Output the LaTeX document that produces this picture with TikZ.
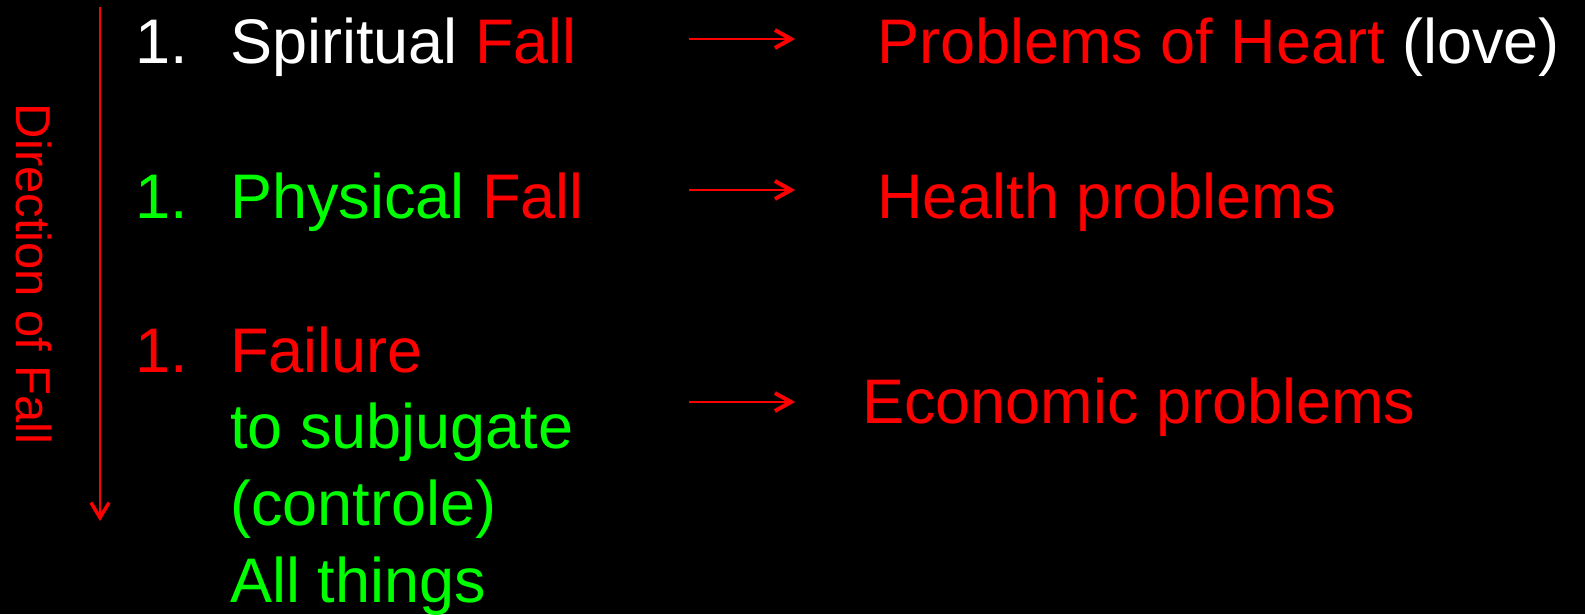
\documentclass[tikz,border=0pt]{standalone}
\usepackage{fontspec}
\setmainfont{Liberation Sans}
\usetikzlibrary{arrows.meta}
\definecolor{fallred}{RGB}{255,0,0}
\definecolor{fallgreen}{RGB}{0,255,0}
\tikzset{
	txt/.style = {
		anchor=base west,
		inner sep=0pt,
		font=\fontsize{63}{77}\selectfont
	},
	txt_w/.style = {
		txt,
		white
	},
	txt_g/.style = {
		txt,
		fallgreen
	},
	txt_r/.style = {
		txt,
		fallred
	},
	fall_arrow/.style = {
		fallred,
		line width=2pt,
		-{Straight Barb[length=16pt,width=18pt,line width=4pt]}
	},
	dir_arrow/.style = {
		fallred,
		line width=2pt,
		-{Straight Barb[length=15pt,width=18pt,line width=3.5pt]}
	},
}

\begin{document}
\begin{tikzpicture}[x=1pt,y=-1pt]
\fill[black] (0,0) rectangle (1585,614);
\useasboundingbox (0,0) rectangle (1585,614);

% direction of fall
\coordinate (dtop) at (100,7);
\coordinate (dbot) at (100,521);
\draw[dir_arrow] (dtop) -- (dbot);
\node[fallred, inner sep=0pt, rotate=-90, font=\fontsize{49}{59}\selectfont] (dir) at (34,274) {Direction of Fall};

% left column
\node[txt_w] (num1) at (135,63) {1.};
\node[txt_w] (spirit) at (230,63) {Spiritual \textcolor{fallred}{Fall}};
\node[txt_g] (num2) at (135,218) {1.};
\node[txt_g] (phys) at (230,218) {Physical \textcolor{fallred}{Fall}};
\node[txt_r] (num3) at (135,372) {1.};
\node[txt_r] (fail1) at (230,372) {Failure};
\node[txt_g] (fail2) at (230,448) {to subjugate};
\node[txt_g] (fail3) at (230,525) {(controle)};
\node[txt_g] (fail4) at (230,602) {All things};

% right column
\node[txt_r] (heart) at (877,63) {Problems of Heart \textcolor{white}{(love)}};
\node[txt_r] (health) at (877,218) {Health problems};
\node[txt_r] (econ) at (862,423) {Economic problems};

% arrows
\coordinate (a1) at (689,39);
\coordinate (b1) at (795,39);
\coordinate (a2) at (689,190);
\coordinate (b2) at (795,190);
\coordinate (a3) at (689,402);
\coordinate (b3) at (795,402);
\draw[fall_arrow] (a1) -- (b1);
\draw[fall_arrow] (a2) -- (b2);
\draw[fall_arrow] (a3) -- (b3);
\end{tikzpicture}
\end{document}
